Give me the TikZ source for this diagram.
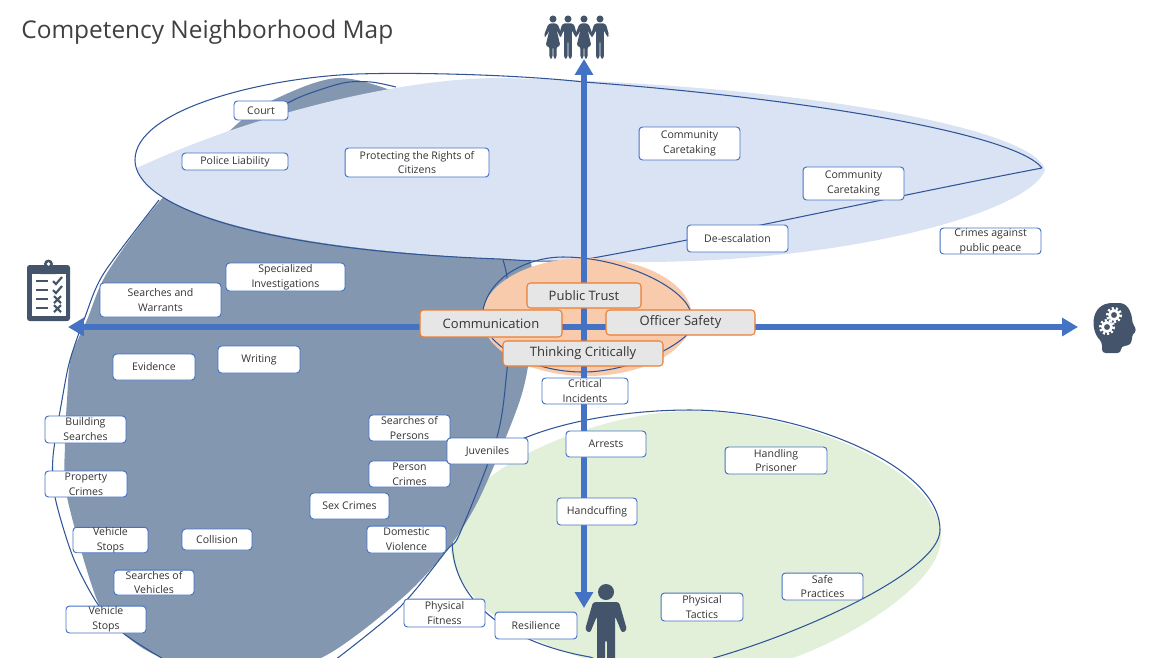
\documentclass[tikz,border=0pt]{standalone}
\usepackage{fontspec}
\setmainfont{Open Sans}
\usetikzlibrary{arrows.meta}
\definecolor{axisblue}{HTML}{4472C4}
\definecolor{slate}{HTML}{44546A}
\definecolor{darkzone}{HTML}{8497B0}
\definecolor{bluezone}{HTML}{DAE3F3}
\definecolor{greenzone}{HTML}{E2F0D9}
\definecolor{orangezone}{HTML}{F8CBAD}
\definecolor{zoneline}{HTML}{2F5597}
\definecolor{coreline}{HTML}{ED7D31}
\definecolor{coregray}{HTML}{E7E6E6}

\begin{document}
\begin{tikzpicture}[
	x=0.02cm, y=-0.02cm,
	% Define styles
	competency/.style={rectangle, draw=axisblue, fill=white, rounded corners=2pt, line width=0.55pt, align=center, inner sep=0pt, text=black!80, font=\fontsize{6}{8.5}\selectfont},
	core/.style={rectangle, draw=coreline, fill=coregray, rounded corners=2pt, line width=0.6pt, align=center, inner sep=0pt, text=black!80, font=\fontsize{7.4}{9}\selectfont},
	zoneedge/.style={draw=zoneline, line width=0.6pt},
	axis/.style={{Triangle[length=9pt, width=10pt]}-{Triangle[length=9pt, width=10pt]}, line width=3pt, axisblue},
	icon/.style={fill=slate, draw=none},
	manfigure/.pic={
		\fill[rounded corners=1.5pt] (0,0) circle (8) (-13,10) -- (13,10) -- (21,38) -- (16,41) -- (9,24) -- (9,90) -- (1,90) -- (1,48) -- (-1,48) -- (-1,90) -- (-9,90) -- (-9,24) -- (-16,41) -- (-21,38) -- cycle;
	},
	womanfigure/.pic={
		\fill[rounded corners=1.5pt] (0,0) circle (8) (-10,10) -- (10,10) -- (21,38) -- (16,41) -- (8,24) -- (17,62) -- (8,62) -- (8,90) -- (1,90) -- (1,62) -- (-1,62) -- (-1,90) -- (-8,90) -- (-8,62) -- (-17,62) -- (-8,24) -- (-16,41) -- (-21,38) -- cycle;
	}
	]
	\clip (0,0) rectangle (1166,657);
	
	% Title
	\node[anchor=west, inner sep=0pt, text=black!75, font=\fontsize{13.9}{16}\selectfont] (title) at (21,32) {Competency Neighborhood Map};
	
	% 1. Zones
	\fill[greenzone] (690,411) .. controls (800,411) and (945,470) .. (941,540) .. controls (938,590) and (830,650) .. (770,665) -- (590,660) .. controls (520,640) and (450,600) .. (450,540) .. controls (450,470) and (600,411) .. (690,411) -- cycle;
	\draw[zoneedge] (690,410) .. controls (800,410) and (940,465) .. (940,530) .. controls (940,570) and (810,630) .. (717,657) .. controls (660,675) and (610,665) .. (590,657) .. controls (520,645) and (460,610) .. (453,553) .. controls (445,490) and (480,455) .. (527,437) .. controls (570,420) and (630,410) .. (690,410) -- cycle;
	\fill[darkzone] plot[smooth cycle] coordinates {(343,78) (273,100) (236,125) (159,202) (107,273) (87,320) (71,357) (67,400) (65,443) (67,497) (97,600) (123,633) (160,657) (240,680) (323,657) (400,600) (447,550) (480,497) (520,400) (531,340) (531,263) (500,190) (430,110)};
	\draw[zoneedge] plot[smooth] coordinates {(159,200) (104,273) (85,317) (70,360) (62,400) (53,457) (55,497) (73,557) (97,603) (123,633) (165,660)};
	\draw[zoneedge] plot[smooth] coordinates {(335,660) (400,607) (447,550) (460,533) (497,437) (507,370) (511,320) (507,277) (503,260)};
	\draw[zoneedge] plot[smooth] coordinates {(270,113) (300,97) (343,83) (371,82) (396,87)};
	\fill[bluezone] (1045,170) .. controls (1035,128) and (800,84) .. (500,78) .. controls (400,78) and (250,115) .. (137,168) .. controls (150,215) and (300,262) .. (640,262) .. controls (850,262) and (1030,212) .. (1045,170) -- cycle;
	\draw[zoneedge] (1042,168) .. controls (1015,133) and (800,98) .. (584,82) .. controls (520,75) and (420,72) .. (357,74) .. controls (260,78) and (135,110) .. (135,160) .. controls (135,205) and (250,250) .. (500,259) .. controls (540,262) and (570,262) .. (593,258) .. controls (720,235) and (900,195) .. (1042,168);
	\fill[orangezone] (587,317) ellipse [x radius=105, y radius=59];
	\draw[zoneedge] (483,310) .. controls (490,275) and (530,257) .. (563,257) .. controls (620,257) and (680,285) .. (690,310);
	\draw[zoneedge] (492,338) .. controls (510,358) and (545,372) .. (583,372) .. controls (620,372) and (665,355) .. (687,335);
	
	% 2. Axes and what they point to
	\coordinate (east end) at (1078,327);
	\coordinate (west end) at (68,327);
	\coordinate (north end) at (584,59);
	\coordinate (south end) at (584,608);
	\draw[axis] (west end) -- (east end);
	\draw[axis] (south end) -- (north end);
	
	% People
	\begin{scope}[slate]
		\pic[scale=0.44] (womanA) at (553,19) {womanfigure};
		\pic[scale=0.44] (manA) at (568,19) {manfigure};
		\pic[scale=0.44] (womanB) at (584,19) {womanfigure};
		\pic[scale=0.44] (manB) at (600,19) {manfigure};
		\pic (officer) at (606,592) {manfigure};
	\end{scope}
	
	% Clipboard
	\fill[icon, rounded corners=1.5pt] (27,265) rectangle (70,321);
	\fill[white] (32,274) rectangle (66,316);
	\fill[icon, rounded corners=1.5pt] (38,265) rectangle (59,274);
	\fill[icon] (48.5,264) circle (4.5);
	\fill[white] (48.5,264) circle (1.8);
	\draw[slate, line width=1.3pt] (36,281) -- (48,281) (36,290) -- (48,290) (36,299) -- (48,299) (36,308) -- (48,308);
	\draw[slate, line width=1.2pt] (53,281) -- (56,284) -- (62,277) (53,290) -- (56,293) -- (62,286);
	\draw[slate, line width=1.2pt] (54,296) -- (61,303) (61,296) -- (54,303) (54,305) -- (61,312) (61,305) -- (54,312);
	
	% Head with gears
	\fill[icon, rounded corners=2pt] (1102,353) -- (1102,342) .. controls (1090,330) and (1090,303) .. (1116,303) .. controls (1130,303) and (1132,318) .. (1132,322) -- (1137,331) -- (1132,334) -- (1132,342) -- (1128,346) -- (1121,346) -- (1121,353) -- cycle;
	\draw[white, line width=1.5pt] (1114,315) circle (4.5) (1107,327) circle (4.5);
	\draw[white, line width=1.4pt, dash pattern=on 1.2pt off 1.2pt] (1114,315) circle (6.8) (1107,327) circle (6.8);
	
	% 3. Competencies
	\node[competency, minimum width=1.08cm, minimum height=.38cm] (court) at (261,110.5) {Court};
	\node[competency, minimum width=2.12cm, minimum height=.34cm] (liability) at (235,161.5) {Police Liability};
	\node[competency, minimum width=2.88cm, minimum height=.58cm] (rights) at (417,162.5) {Protecting the Rights of\\Citizens};
	\node[competency, minimum width=2.02cm, minimum height=.66cm] (caretakingA) at (689.5,143.5) {Community\\Caretaking};
	\node[competency, minimum width=2.02cm, minimum height=.66cm] (caretakingB) at (853.5,183.5) {Community\\Caretaking};
	\node[competency, minimum width=2.02cm, minimum height=.54cm] (deescalation) at (737.5,238.5) {De-escalation};
	\node[competency, minimum width=2.02cm, minimum height=.52cm] (peace) at (990.5,241) {Crimes against\\public peace};
	\node[competency, minimum width=2.38cm, minimum height=.56cm] (specialized) at (285.5,277) {Specialized\\Investigations};
	\node[competency, minimum width=2.42cm, minimum height=.68cm] (warrants) at (160.5,300) {Searches and\\Warrants};
	\node[competency, minimum width=1.64cm, minimum height=.54cm] (writing) at (259,359.5) {Writing};
	\node[competency, minimum width=1.64cm, minimum height=.52cm] (evidence) at (154,367) {Evidence};
	\node[competency, minimum width=1.72cm, minimum height=.52cm] (incidents) at (585,391) {Critical\\Incidents};
	\node[competency, minimum width=1.62cm, minimum height=.54cm] (building) at (85.5,429.5) {Building\\Searches};
	\node[competency, minimum width=1.62cm, minimum height=.52cm] (persons) at (409.5,428) {Searches of\\Persons};
	\node[competency, minimum width=1.62cm, minimum height=.52cm] (personcrimes) at (409.5,474) {Person\\Crimes};
	\node[competency, minimum width=1.62cm, minimum height=.52cm] (juveniles) at (487.5,451) {Juveniles};
	\node[competency, minimum width=1.6cm, minimum height=.52cm] (arrests) at (606,444) {Arrests};
	\node[competency, minimum width=2.04cm, minimum height=.54cm] (prisoner) at (776,460.5) {Handling\\Prisoner};
	\node[competency, minimum width=1.64cm, minimum height=.52cm] (property) at (86,484) {Property\\Crimes};
	\node[competency, minimum width=1.58cm, minimum height=.52cm] (sexcrimes) at (349.5,506) {Sex Crimes};
	\node[competency, minimum width=1.6cm, minimum height=.54cm] (handcuffing) at (597,511.5) {Handcuffing};
	\node[competency, minimum width=1.5cm, minimum height=.48cm] (stopsA) at (110.5,540) {Vehicle\\Stops};
	\node[competency, minimum width=1.4cm, minimum height=.42cm] (collision) at (217,539.5) {Collision};
	\node[competency, minimum width=1.58cm, minimum height=.54cm] (domestic) at (406.5,539.5) {Domestic\\Violence};
	\node[competency, minimum width=1.6cm, minimum height=.5cm] (vehicles) at (154,582.5) {Searches of\\Vehicles};
	\node[competency, minimum width=1.62cm, minimum height=.54cm] (safe) at (822.5,586.5) {Safe\\Practices};
	\node[competency, minimum width=1.64cm, minimum height=.56cm] (tactics) at (702,607) {Physical\\Tactics};
	\node[competency, minimum width=1.62cm, minimum height=.56cm] (fitness) at (444.5,613) {Physical\\Fitness};
	\node[competency, minimum width=1.6cm, minimum height=.54cm] (stopsB) at (106,619.5) {Vehicle\\Stops};
	\node[competency, minimum width=1.64cm, minimum height=.54cm] (resilience) at (536,625.5) {Resilience};
	
	% 4. Core competencies
	\node[core, minimum width=2.28cm, minimum height=.5cm] (trust) at (584,295.5) {Public Trust};
	\node[core, minimum width=2.84cm, minimum height=.54cm] (communication) at (491,323.5) {Communication};
	\node[core, minimum width=2.98cm, minimum height=.5cm] (safety) at (680.5,322.5) {Officer Safety};
	\node[core, minimum width=3.2cm, minimum height=.5cm] (thinking) at (583,353.5) {Thinking Critically};
\end{tikzpicture}
\end{document}
